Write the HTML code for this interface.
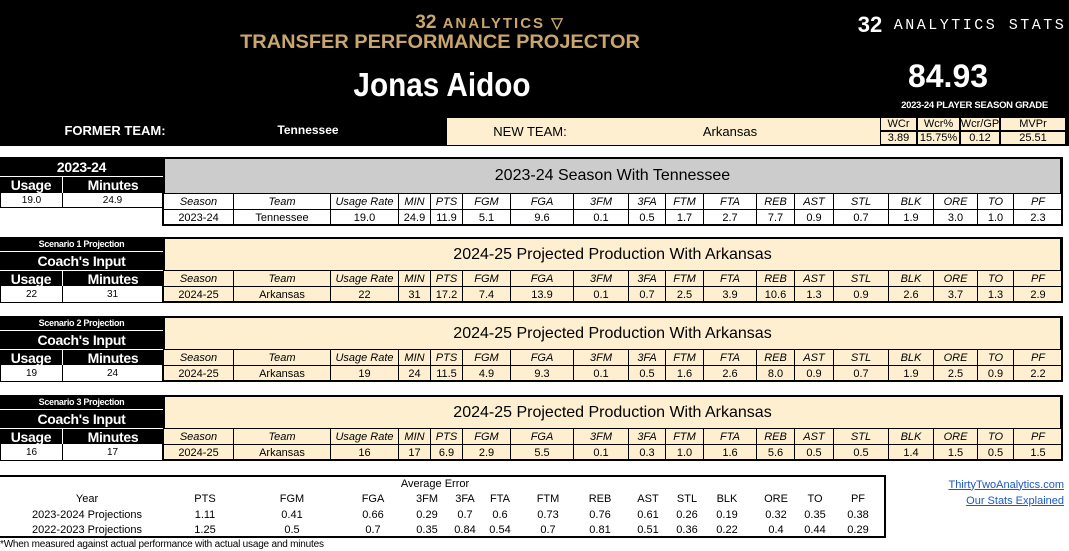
<!DOCTYPE html>
<html><head><meta charset="utf-8">
<style>
*{margin:0;padding:0;box-sizing:border-box}
body{width:1069px;height:551px;background:#fff;position:relative;overflow:hidden;font-family:"Liberation Sans",Arial,sans-serif;color:#000}
.a{position:absolute}
.c{position:absolute;display:flex;align-items:center;justify-content:center;white-space:nowrap;font-size:11px}
#hdr{left:0;top:0;width:1069px;height:146px;background:#000}
.gold{color:#c9a66b;font-weight:bold}
</style></head>
<body>
<div id="hdr" class="a"></div>
<div class="c gold" style="left:300px;top:14px;width:380px;height:18px;font-size:15px;letter-spacing:2px"><span style="font-size:19px;letter-spacing:0">32</span>&nbsp;ANALYTICS ▽</div>
<div class="c gold" style="left:200px;top:32px;width:480px;height:22px;font-size:19px;transform:scaleX(1.05)">TRANSFER PERFORMANCE PROJECTOR</div>
<div class="c" style="left:300px;top:66px;width:284px;height:38px;font-size:33px;font-weight:bold;color:#fff;transform:scaleX(0.9)">Jonas Aidoo</div>
<div class="c" style="left:855px;top:12px;width:214px;height:26px;font-size:15px;color:#fff;letter-spacing:2.5px;font-family:'Liberation Mono',monospace"><b style="font-family:'Liberation Sans';font-size:22px;letter-spacing:0">32</b>&nbsp;ANALYTICS STATS</div>
<div class="c" style="left:880px;top:56px;width:136px;height:40px;font-size:32px;font-weight:bold;color:#fff">84.93</div>
<div class="c" style="left:880px;top:98px;width:189px;height:14px;font-size:9.5px;font-weight:bold;color:#fff;letter-spacing:-0.3px">2023-24 PLAYER SEASON GRADE</div>
<div class="c" style="left:40px;top:120px;width:150px;height:20px;font-size:13px;font-weight:bold;color:#fff">FORMER TEAM:</div>
<div class="c" style="left:250px;top:120px;width:116px;height:20px;font-size:12px;font-weight:bold;color:#fff">Tennessee</div>
<div class="a" style="left:447px;top:118px;width:433px;height:27px;background:#fdefd0"></div>
<div class="c" style="left:470px;top:120px;width:120px;height:22px;font-size:13px">NEW TEAM:</div>
<div class="c" style="left:660px;top:120px;width:140px;height:22px;font-size:13px">Arkansas</div>
<div id="root"></div>
<div class="c" style="left:0;top:537px;width:360px;height:14px;font-size:10px;justify-content:flex-start;letter-spacing:-0.2px">*When measured against actual performance with actual usage and minutes</div>
<div class="c" style="left:940px;top:477px;width:124px;height:15px;font-size:11px;justify-content:flex-end;color:#1a56c8;text-decoration:underline">ThirtyTwoAnalytics.com</div>
<div class="c" style="left:940px;top:493px;width:124px;height:15px;font-size:11px;justify-content:flex-end;color:#1a56c8;text-decoration:underline">Our Stats Explained</div>
<script>
const gradeLabels=["WCr","Wcr%","Wcr/GP","MVPr"];
const gradeValues=["3.89","15.75%","0.12","25.51"];
const statCols=["Season","Team","Usage Rate","MIN","PTS","FGM","FGA","3FM","3FA","FTM","FTA","REB","AST","STL","BLK","ORE","TO","PF"];
const row2324=["2023-24","Tennessee","19.0","24.9","11.9","5.1","9.6","0.1","0.5","1.7","2.7","7.7","0.9","0.7","1.9","3.0","1.0","2.3"];
const rowS1=["2024-25","Arkansas","22","31","17.2","7.4","13.9","0.1","0.7","2.5","3.9","10.6","1.3","0.9","2.6","3.7","1.3","2.9"];
const rowS2=["2024-25","Arkansas","19","24","11.5","4.9","9.3","0.1","0.5","1.6","2.6","8.0","0.9","0.7","1.9","2.5","0.9","2.2"];
const rowS3=["2024-25","Arkansas","16","17","6.9","2.9","5.5","0.1","0.3","1.0","1.6","5.6","0.5","0.5","1.4","1.5","0.5","1.5"];
const usageMin0=["19.0","24.9"];
const usageMin1=["22","31"];
const usageMin2=["19","24"];
const usageMin3=["16","17"];
const errCols=["Year","PTS","FGM","FGA","3FM","3FA","FTA","FTM","REB","AST","STL","BLK","ORE","TO","PF"];
const err2324=["2023-2024 Projections","1.11","0.41","0.66","0.29","0.7","0.6","0.73","0.76","0.61","0.26","0.19","0.32","0.35","0.38"];
const err2223=["2022-2023 Projections","1.25","0.5","0.7","0.35","0.84","0.54","0.7","0.81","0.51","0.36","0.22","0.4","0.44","0.29"];

const root=document.getElementById('root');
function cell(x,y,w,h,txt,st){
  const d=document.createElement('div');
  d.className='c';
  d.style.cssText=`left:${x}px;top:${y}px;width:${w}px;height:${h}px;`+(st||'');
  d.textContent=txt;
  root.appendChild(d);
  return d;
}
const gx=[880,917,960,1000,1066];
for(let i=0;i<4;i++){
  let d=cell(gx[i],117,gx[i+1]-gx[i],14,gradeLabels[i],'background:#fdefd0;border:1px solid #000;font-size:11px');
  
  
  d=cell(gx[i],131,gx[i+1]-gx[i],14,gradeValues[i],'background:#fdefd0;border:1px solid #000;font-size:11px');
  
  
}
const cx=[163,233,330,398,430,462,510,573,628,665,703,756,794,833,888,933,977,1013,1062];
const blocks=[
 {y:157,title:"2023-24 Season With Tennessee",bg:"#cccccc",rowbg:"#fff",row:row2324,um:usageMin0,small:null,big:"2023-24"},
 {y:237,title:"2024-25 Projected Production With Arkansas",bg:"#fdefd0",rowbg:"#fdefd0",row:rowS1,um:usageMin1,small:"Scenario 1 Projection",big:"Coach's Input"},
 {y:316,title:"2024-25 Projected Production With Arkansas",bg:"#fdefd0",rowbg:"#fdefd0",row:rowS2,um:usageMin2,small:"Scenario 2 Projection",big:"Coach's Input"},
 {y:395,title:"2024-25 Projected Production With Arkansas",bg:"#fdefd0",rowbg:"#fdefd0",row:rowS3,um:usageMin3,small:"Scenario 3 Projection",big:"Coach's Input"}
];
blocks.forEach((b,bi)=>{
  const y=b.y;
  const first=bi===0;
  const titleH=first?36:33;
  const ty=y; const hy=y+titleH; const dy=hy+16;
  let d=cell(163,ty,899,titleH+1,b.title,`background:${b.bg};border:2px solid #000;border-bottom:1px solid #000;font-size:16px`);
  
  
  for(let i=0;i<statCols.length;i++){
    d=cell(cx[i],hy,cx[i+1]-cx[i]+1,17,statCols[i],`background:${b.bg==="#cccccc"?"#fff":b.bg};border:1px solid #000;font-style:italic;font-size:11px`);
    
    
    d=cell(cx[i],dy,cx[i+1]-cx[i]+1,17,b.row[i],`background:${b.rowbg};border:1px solid #000;font-size:11px`);
    
    
  }
  const fr=document.createElement('div');
  fr.className='a';
  fr.style.cssText=`left:162px;top:${ty}px;width:901px;height:${dy+17-ty}px;border:2px solid #000;pointer-events:none`;
  
  
  root.appendChild(fr);
  let ly=ty;
  if(b.small){
    d=cell(0,ly,163,14,b.small,'background:#000;color:#fff;font-weight:bold;font-size:9px;letter-spacing:-0.3px');
    
    
    ly+=14;
    d=cell(0,ly,163,19,b.big,'background:#000;color:#fff;font-weight:bold;font-size:14px;border-top:1px solid #fff;letter-spacing:-0.3px');
    
    
    ly+=19;
  } else {
    d=cell(0,ly,163,19,b.big,'background:#000;color:#fff;font-weight:bold;font-size:14px;letter-spacing:-0.3px');
    
    
    ly+=19;
  }
  const lEnd=first?hy:hy+16;
  d=cell(0,ly,63,lEnd-ly,"Usage",'background:#000;color:#fff;font-weight:bold;font-size:14px;border-top:1px solid #fff;border-right:1px solid #fff;letter-spacing:-0.3px');
  
  
  d=cell(63,ly,100,lEnd-ly,"Minutes",'background:#000;color:#fff;font-weight:bold;font-size:14px;border-top:1px solid #fff;letter-spacing:-0.3px');
  
  
  const vy=lEnd;
  d=cell(0,vy,63,first?15:17,b.um[0],'border:1px solid #000;border-top:none;font-size:10px');
  
  
  d=cell(63,vy,100,first?15:17,b.um[1],'border:1px solid #000;border-top:none;border-left:none;font-size:10px');
  
  
});
const eb=document.createElement('div');
eb.className='a';
eb.style.cssText='left:0;top:475px;width:886px;height:63px;border:2px solid #000;border-left:none';


root.appendChild(eb);
let t=cell(380,477,110,14,"Average Error",'font-size:11px');


const ex=[87,205,292,373,427,465,500,548,600,648,687,727,776,815,858];
for(let i=0;i<errCols.length;i++){
  const w=i===0?150:40;
  let d=cell(ex[i]-w/2,491,w,15,errCols[i],'font-size:11px');
  
  
  d=cell(ex[i]-w/2,507,w,15,err2324[i],'font-size:11px');
  
  
  d=cell(ex[i]-w/2,522,w,15,err2223[i],'font-size:11px');
  
  
}
</script>
</body></html>
